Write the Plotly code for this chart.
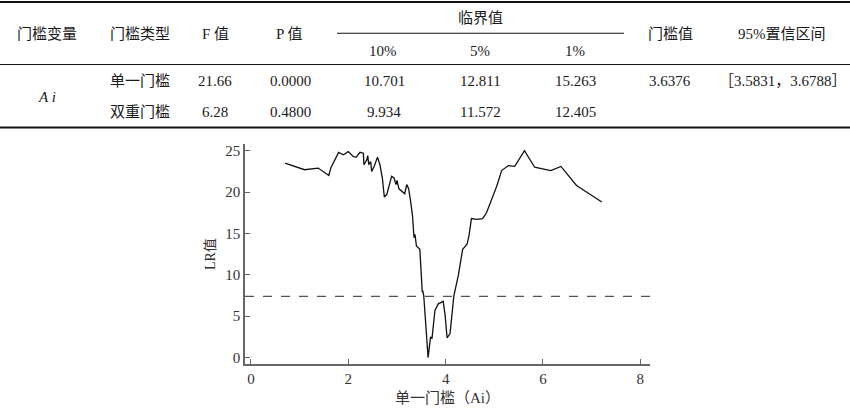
import plotly.graph_objects as go

# ---------------- table data ----------------
header_main = ["门槛变量", "门槛类型", "F 值", "P 值", "门槛值", "95%置信区间"]
crit_group = "临界值"
crit_levels = ["10%", "5%", "1%"]
threshold_var = "Ai"
threshold_types = ["单一门槛", "双重门槛"]
f_values = ["21.66", "6.28"]
p_values = ["0.0000", "0.4800"]
crit_10 = ["10.701", "9.934"]
crit_5 = ["12.811", "11.572"]
crit_1 = ["15.263", "12.405"]
threshold_value = "3.6376"
conf_interval = "［3.5831，3.6788］"

# ---------------- LR curve data ----------------
lr_x = [0.70, 1.10, 1.38, 1.60, 1.64, 1.80, 1.90, 2.00, 2.10, 2.16, 2.24, 2.31, 2.32, 2.38,
        2.40, 2.42, 2.46, 2.48, 2.53, 2.60, 2.65, 2.70, 2.74, 2.79, 2.89, 2.94, 2.98, 3.00,
        3.04, 3.09, 3.16, 3.20, 3.24, 3.28, 3.32, 3.35, 3.37, 3.40, 3.47, 3.52, 3.53, 3.55,
        3.64, 3.69, 3.72, 3.78, 3.85, 3.95, 3.99, 4.03, 4.09, 4.17, 4.26, 4.35, 4.44, 4.48,
        4.53, 4.64, 4.76, 4.84, 4.95, 5.05, 5.15, 5.29, 5.42, 5.62, 5.83, 6.16, 6.37, 6.69,
        7.21]
lr_y = [23.5, 22.7, 22.9, 22.0, 22.9, 24.8, 24.5, 24.9, 24.3, 24.2, 24.8, 24.7, 23.3, 23.9,
        24.4, 23.3, 23.7, 22.5, 23.1, 24.2, 23.3, 21.7, 19.4, 19.7, 21.9, 21.7, 20.9, 21.4,
        20.4, 20.1, 19.8, 20.9, 20.4, 18.9, 17.1, 14.5, 14.9, 13.5, 13.1, 7.9, 8.1, 7.5,
        0.0, 2.5, 2.3, 5.7, 6.5, 6.8, 5.1, 2.4, 2.9, 7.5, 9.9, 13.1, 13.7, 14.7,
        16.8, 16.7, 16.8, 17.5, 19.1, 20.7, 22.6, 23.2, 23.1, 25.0, 23.0, 22.6, 23.1, 20.8,
        18.8]
critical_lr = 7.39
x_ticks = [0, 2, 4, 6, 8]
y_ticks = [0, 5, 10, 15, 20, 25]

W, H = 850, 408
FONT = "Liberation Serif, Noto Sans CJK SC, serif"
TXT = "#1a1a1a"


def px(x):
    return x / W


def py(y):
    return 1 - y / H


fig = go.Figure()
fig.add_trace(go.Scatter(x=lr_x, y=lr_y, mode="lines",
                         line=dict(color="#111111", width=1.3), showlegend=False,
                         hoverinfo="skip"))

ann = []


def text(x, y, s, size=15):
    ann.append(dict(x=px(x), y=py(y), xref="paper", yref="paper", text=s,
                    showarrow=False, xanchor="center", yanchor="middle",
                    font=dict(family=FONT, size=size, color=TXT)))


# header
text(47, 33, header_main[0])
text(140, 33, header_main[1])
text(215, 33, header_main[2])
text(289, 33, header_main[3])
text(480, 17, crit_group)
for cx, lab in zip([383, 480, 575], crit_levels):
    text(cx, 50, lab)
text(670, 33, header_main[4])
text(782, 33, header_main[5])

# body
text(47, 97, "<i>A i</i>")
rows_y = [81, 112]
for i, ry in enumerate(rows_y):
    text(140, ry, threshold_types[i])
    text(215, ry, f_values[i])
    text(290, ry, p_values[i])
    text(384, ry, crit_10[i])
    text(480, ry, crit_5[i])
    text(575, ry, crit_1[i])
text(670, rows_y[0], threshold_value)
text(783, rows_y[0], conf_interval)

shapes = [
    dict(type="line", xref="paper", yref="paper", x0=0, x1=1, y0=py(1), y1=py(1),
         line=dict(color="#111", width=2)),
    dict(type="line", xref="paper", yref="paper", x0=px(337), x1=px(624), y0=py(32.5), y1=py(32.5),
         line=dict(color="#111", width=1)),
    dict(type="line", xref="paper", yref="paper", x0=0, x1=1, y0=py(64), y1=py(64),
         line=dict(color="#111", width=1)),
    dict(type="line", xref="paper", yref="paper", x0=0, x1=1, y0=py(127.5), y1=py(127.5),
         line=dict(color="#111", width=2)),
    dict(type="line", xref="x domain", yref="y", x0=0, x1=1, y0=critical_lr, y1=critical_lr,
         line=dict(color="#555", width=1.3, dash="dash")),
]

axis_common = dict(showgrid=False, zeroline=False, showline=True, linecolor="#666",
                   linewidth=1.5, ticks="inside", ticklen=5, tickcolor="#666",
                   tickwidth=1.2, tickfont=dict(family=FONT, size=15, color="#333"))

fig.update_layout(
    width=W, height=H, margin=dict(l=0, r=0, t=0, b=0),
    paper_bgcolor="white", plot_bgcolor="white",
    annotations=ann, shapes=shapes,
    xaxis=dict(domain=[px(245), px(650)], range=[-0.123, 8.2], tickvals=x_ticks,
               title=dict(text="单一门槛（Ai）", standoff=7,
                          font=dict(family=FONT, size=15, color="#333")),
               **axis_common),
    yaxis=dict(domain=[py(365.7), py(144.3)], range=[-0.77, 25.78], tickvals=y_ticks,
               title=dict(text="LR值", standoff=6,
                          font=dict(family=FONT, size=14, color="#333")),
               **axis_common),
)

fig.write_html("out.html", config={"displayModeBar": False},
               post_script="document.body.style.margin='0';document.body.style.overflow='hidden';")
